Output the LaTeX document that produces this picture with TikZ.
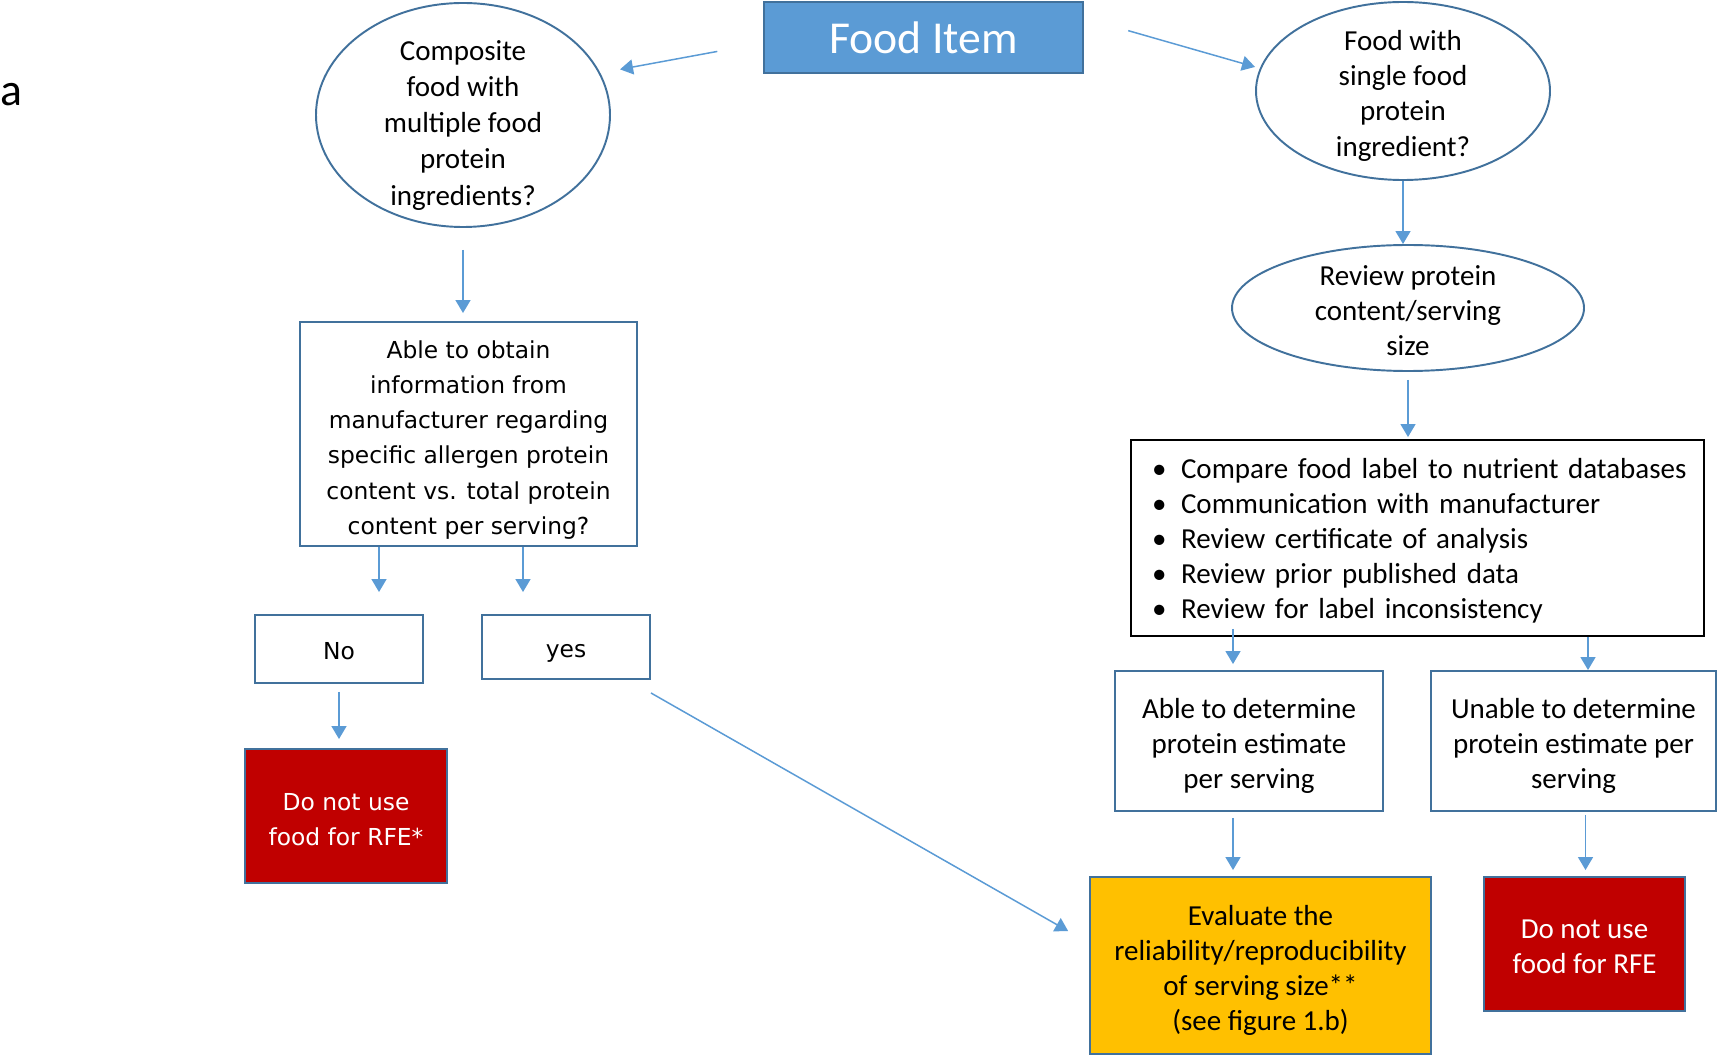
\documentclass[tikz,border=0pt]{standalone}
\usepackage{fontspec}
\setmainfont{Carlito}
\newfontfamily\dejavu{DejaVu Sans}
\usetikzlibrary{shapes,arrows.meta,positioning,calc}
\definecolor{edgeblue}{HTML}{41719C}
\definecolor{arrowblue}{HTML}{5B9BD5}
\definecolor{itemblue}{HTML}{5B9BD5}
\definecolor{stopred}{HTML}{C00000}
\definecolor{evalyellow}{HTML}{FFC000}
\newcommand{\calfont}{\fontsize{16.5pt}{20pt}\selectfont}
\newcommand{\verfont}{\dejavu\fontsize{13.3pt}{20pt}\selectfont}
\newcommand{\bigfont}{\fontsize{26pt}{30pt}\selectfont}
\newcommand{\bul}{\makebox[0.58cm][l]{\textbullet}}
% struts for first and last text lines
\newcommand{\tstrut}{\rule[-4pt]{0pt}{22pt}}
\newcommand{\bstrut}{\rule[-4pt]{0pt}{4pt}}
\newcommand{\fstrut}{\rule[-4pt]{0pt}{20pt}}

\begin{document}
\begin{tikzpicture}[
    oval/.style={ellipse, draw=edgeblue, line width=1.1pt, inner xsep=0pt, inner ysep=-1cm,
                 align=center, font=\calfont},
    qbox/.style={rectangle, draw=edgeblue, line width=1.1pt, inner sep=0pt, align=center, font=\calfont},
    stopbox/.style={qbox, fill=stopred, text=white},
    arrow/.style={-{Triangle[width=0.3cm,length=0.26cm]}, draw=arrowblue, line width=0.85pt}
]
\useasboundingbox (0,0) rectangle (34.36,-21.14);
\node[anchor=west, inner sep=0pt, font=\bigfont] (tag) at (0,-1.90) {a};
\node[qbox, fill=itemblue, text=white, font=\bigfont, minimum width=6.38cm, minimum height=1.42cm] (item) at (18.47,-0.75) {Food Item};
% left branch
\node[oval, font=\fontsize{16.5pt}{20.6pt}\selectfont, minimum width=5.88cm, minimum height=4.48cm] (composite) at (9.26,-2.30)
    {\rule{0pt}{23pt}Composite\\food with\\multiple food\\protein\\ingredients?};
\node[qbox, font=\verfont, minimum width=6.74cm, minimum height=4.48cm] (obtain) at (9.37,-8.68)
    {\tstrut Able to obtain\\information from\\manufacturer regarding\\specific allergen protein\\content vs. total protein\\content per serving?\bstrut};
\node[qbox, font=\verfont, text height=11.9pt, text depth=0pt, minimum width=3.36cm, minimum height=1.36cm] (no) at (6.78,-12.98) {No};
\node[qbox, font=\verfont, text height=11.9pt, text depth=0pt, minimum width=3.36cm, minimum height=1.28cm] (yes) at (11.32,-12.94) {yes};
\node[stopbox, font=\verfont, minimum width=4.04cm, minimum height=2.68cm] (stopL) at (6.92,-16.32)
    {\tstrut Do not use\\food for RFE*\bstrut};
% right branch
\node[oval, minimum width=5.88cm, minimum height=3.56cm] (single) at (28.06,-1.82)
    {\tstrut Food with\\single food\\protein\\ingredient?\bstrut};
\node[oval, minimum width=7.04cm, minimum height=2.52cm] (review) at (28.16,-6.16)
    {\tstrut Review protein\\content/serving\\size\bstrut};
\node[rectangle, draw=black, line width=1.1pt, font=\calfont, align=left, text width=10.62cm,
      inner xsep=0.42cm, inner ysep=0pt, minimum height=3.92cm] (facts) at (28.35,-10.76)
    {\fstrut\mbox{\bul Compare food label to nutrient databases}\\
     \mbox{\bul Communication with manufacturer}\\
     \mbox{\bul Review certificate of analysis}\\
     \mbox{\bul Review prior published data}\\
     \mbox{\bul Review for label inconsistency}\fstrut};
\node[qbox, minimum width=5.36cm, minimum height=2.80cm] (able) at (24.98,-14.82)
    {\tstrut Able to determine\\protein estimate\\per serving\bstrut};
\node[qbox, minimum width=5.70cm, minimum height=2.80cm] (unable) at (31.47,-14.82)
    {\tstrut Unable to determine\\protein estimate per\\serving\bstrut};
\node[qbox, fill=evalyellow, minimum width=6.82cm, minimum height=3.54cm] (evaluate) at (25.21,-19.31)
    {\tstrut Evaluate the\\reliability/reproducibility\\of serving size**\\(see figure 1.b)\bstrut};
\node[stopbox, minimum width=4.02cm, minimum height=2.68cm] (stopR) at (31.69,-18.88)
    {\tstrut Do not use\\food for RFE\bstrut};
% connectors
\draw[arrow, shorten <=0.93cm, shorten >=0.40cm] ([yshift=-0.11cm]item.west) -- (composite.17);
\draw[arrow, shorten <=0.92cm, shorten >=0.10cm] ([yshift=0.39cm]item.east) -- (single.171);
\draw[arrow, shorten <=0.44cm, shorten >=0.16cm] (composite.south) -- (composite.south |- obtain.north);
\draw[arrow] (single.south) -- (single.south |- review.north);
\draw[arrow, shorten <=0.16cm, shorten >=0.04cm] (review.south) -- (review.south |- facts.north);
\draw[arrow, shorten >=0.44cm] ([xshift=-1.79cm]obtain.south) -- ([xshift=-1.79cm]obtain.south |- no.north);
\draw[arrow, shorten >=0.44cm] ([xshift=1.09cm]obtain.south) -- ([xshift=1.09cm]obtain.south |- yes.north);
\draw[arrow, shorten <=0.16cm, shorten >=0.18cm] (no.south) -- (no.south |- stopL.north);
\draw[arrow, shorten >=0.48cm] ([yshift=-0.26cm]yes.south east) -- ([yshift=0.45cm]evaluate.west);
\draw[arrow, shorten <=-0.16cm, shorten >=0.12cm] ([xshift=-3.69cm]facts.south) -- ([xshift=-3.69cm]facts.south |- able.north);
\draw[arrow] ([xshift=3.41cm]facts.south) -- ([xshift=3.41cm]facts.south |- unable.north);
\draw[arrow, shorten <=0.12cm, shorten >=0.12cm] ([xshift=-0.32cm]able.south) -- ([xshift=-0.32cm]able.south |- evaluate.north);
\draw[arrow, shorten <=0.06cm, shorten >=0.12cm] ([xshift=0.24cm]unable.south) -- ([xshift=0.24cm]unable.south |- stopR.north);
\end{tikzpicture}
\end{document}
